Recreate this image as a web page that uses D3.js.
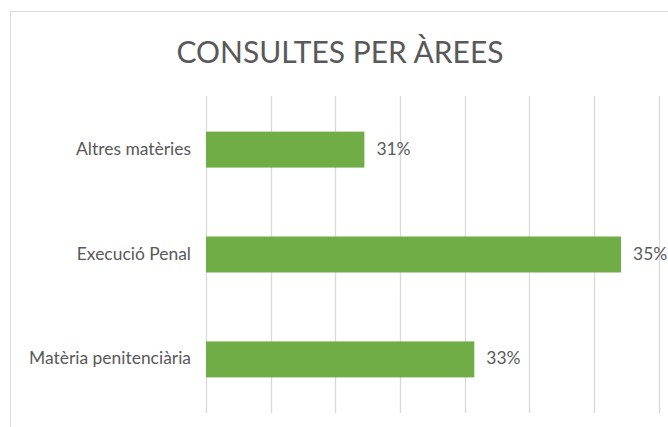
<!DOCTYPE html>
<html>
<head>
<meta charset="utf-8">
<style>
body { margin: 0; background: #fff; }
</style>
</head>
<body>
<div id="chart"></div>
<script src="https://d3js.org/d3.v7.min.js"></script>
<script>
const width = 668;
const height = 427;

// data
const title = "CONSULTES PER ÀREES";
const categories = ["Altres matèries", "Execució Penal", "Matèria penitenciària"];
const values = [0.3145, 0.3542, 0.3315];
const axisTicks = [0.29, 0.30, 0.31, 0.32, 0.33, 0.34, 0.35, 0.36, 0.37];

const svg = d3.select("#chart")
  .append("svg")
  .attr("width", width)
  .attr("height", height);

const font = "Lato, 'Open Sans', sans-serif";
const textColor = "#595959";

// chart frame (cut off on the right and bottom)
svg.append("rect")
    .attr("x", 10.5)
    .attr("y", 11.5)
    .attr("width", 720)
    .attr("height", 440)
    .attr("fill", "#fff")
    .attr("stroke", "#d9d9d9")
    .attr("stroke-width", 1);

// title
const titleText = svg.append("text")
    .attr("x", 340)
    .attr("y", 63)
    .attr("text-anchor", "middle")
    .attr("font-family", font)
    .attr("font-size", 29)
    .attr("fill", textColor)
    .text(title);
// fit title width to ~327px
const tw = titleText.node().getComputedTextLength();
titleText.attr("font-size", 29 * 327 / tw);

// scales
const x = d3.scaleLinear()
    .domain([0.29, 0.37])
    .range([206, 206 + 8 * 64.65]);

const y = d3.scaleBand()
    .domain(categories)
    .range([97, 412])
    .paddingInner(0.657)
    .paddingOuter(0.33);

// gridlines
svg.append("g")
  .selectAll("line")
  .data(axisTicks)
  .join("line")
    .attr("x1", d => Math.round(x(d)) + 0.5)
    .attr("x2", d => Math.round(x(d)) + 0.5)
    .attr("y1", 96)
    .attr("y2", 413)
    .attr("stroke", "#d9d9d9")
    .attr("stroke-width", 1.3);

// bars
const rows = categories.map((c, i) => ({ cat: c, val: values[i] }));

svg.append("g")
  .selectAll("rect")
  .data(rows)
  .join("rect")
    .attr("x", x(0.29))
    .attr("y", d => y(d.cat))
    .attr("width", d => x(d.val) - x(0.29))
    .attr("height", y.bandwidth())
    .attr("fill", "#70ad47");

// category labels, fitted so "Altres matèries" is ~115px wide
const catLabels = svg.append("g")
  .selectAll("text")
  .data(rows)
  .join("text")
    .attr("x", 191)
    .attr("y", d => y(d.cat) + y.bandwidth() / 2 + 5)
    .attr("text-anchor", "end")
    .attr("font-family", font)
    .attr("font-size", 15)
    .attr("fill", textColor)
    .text(d => d.cat);
const cw = catLabels.nodes()[0].getComputedTextLength();
const labelSize = 15 * 115 / cw;
catLabels.attr("font-size", labelSize);

// value labels
const fmt = d3.format(".0%");
svg.append("g")
  .selectAll("text")
  .data(rows)
  .join("text")
    .attr("x", d => x(d.val) + 12)
    .attr("y", d => y(d.cat) + y.bandwidth() / 2 + 5)
    .attr("font-family", font)
    .attr("font-size", labelSize)
    .attr("fill", textColor)
    .text(d => fmt(d.val));
</script>
</body>
</html>
